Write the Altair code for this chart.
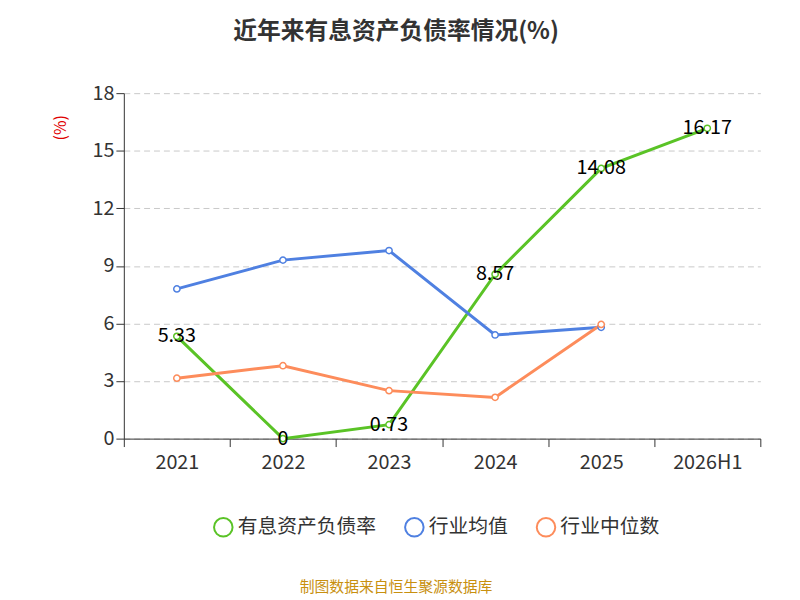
import altair as alt
import pandas as pd

YEARS = ["2021", "2022", "2023", "2024", "2025", "2026H1"]
DEBT_RATIO = [5.33, 0, 0.73, 8.57, 14.08, 16.17]
INDUSTRY_AVG = [7.8, 9.3, 9.8, 5.4, 5.8]
INDUSTRY_MEDIAN = [3.15, 3.8, 2.5, 2.15, 5.95]
SERIES = ["有息资产负债率", "行业均值", "行业中位数"]
COLORS = ["#5ac326", "#4f80e1", "#fd8c5b"]
FONT = "Noto Sans CJK SC"

rows = []
for name, vals in zip(SERIES, [DEBT_RATIO, INDUSTRY_AVG, INDUSTRY_MEDIAN]):
    for y, v in zip(YEARS, vals):
        rows.append({"year": y, "value": v, "series": name})
df = pd.DataFrame(rows)
labels = pd.DataFrame({"year": YEARS, "value": DEBT_RATIO,
                       "text": [f"{v:g}" for v in DEBT_RATIO]})

x = alt.X("year:N", sort=YEARS, title=None,
          scale=alt.Scale(paddingInner=0, paddingOuter=0),
          axis=alt.Axis(labelAngle=0, labelFontSize=20, labelColor="#333",
                        tickBand="extent", tickSize=8, domainColor="#333",
                        tickColor="#333", labelPadding=6, labelFont=FONT))
y = alt.Y("value:Q", title=None,
          scale=alt.Scale(domain=[0, 18]),
          axis=alt.Axis(values=[0, 3, 6, 9, 12, 15, 18], labelFontSize=20,
                        labelColor="#333", gridDash=[6, 4], gridColor="#c8c8c8",
                        domainColor="#333", tickColor="#333", tickSize=8,
                        labelFont=FONT))
color = alt.Color("series:N", sort=SERIES,
                  scale=alt.Scale(domain=SERIES, range=COLORS),
                  legend=alt.Legend(orient="none", legendX=90, legendY=428,
                                    direction="horizontal", title=None,
                                    labelFontSize=20, labelColor="#333",
                                    labelFont=FONT, symbolSize=350,
                                    symbolType="circle", symbolFillColor="white",
                                    symbolStrokeWidth=2, columnPadding=25))

lines = alt.Chart(df).mark_line(strokeWidth=3).encode(x=x, y=y, color=color)

points = alt.Chart(df).mark_point(
    filled=False, fill="white", fillOpacity=1, size=40, strokeWidth=1.5, opacity=1
).encode(x=x, y=y, color=alt.Color("series:N", sort=SERIES,
                                   scale=alt.Scale(domain=SERIES, range=COLORS),
                                   legend=None))

text = alt.Chart(labels).mark_text(fontSize=20, color="black", font=FONT).encode(
    x=x, y=y, text="text:N"
)

title = alt.Chart(pd.DataFrame({"t": ["近年来有息资产负债率情况(%)"]})).mark_text(
    fontSize=24, fontWeight="bold", color="#333", font=FONT
).encode(x=alt.value(275), y=alt.value(-62), text="t:N")

unit = alt.Chart(pd.DataFrame({"t": ["(%)"]})).mark_text(
    fontSize=16, color="#e00000", angle=270, font=FONT
).encode(x=alt.value(-63), y=alt.value(35), text="t:N")

footer = alt.Chart(pd.DataFrame({"t": ["制图数据来自恒生聚源数据库"]})).mark_text(
    fontSize=15, color="#c8900f", font=FONT
).encode(x=alt.value(275), y=alt.value(499), text="t:N")

chart = alt.layer(lines, points, text, title, unit, footer).properties(
    width=643, height=349,
    autosize=alt.AutoSizeParams(type="none"),
    padding={"left": 117, "top": 83, "right": 32, "bottom": 160},
).configure_view(strokeWidth=0)

chart.save("out.html", embed_options={"renderer": "svg", "actions": False})
